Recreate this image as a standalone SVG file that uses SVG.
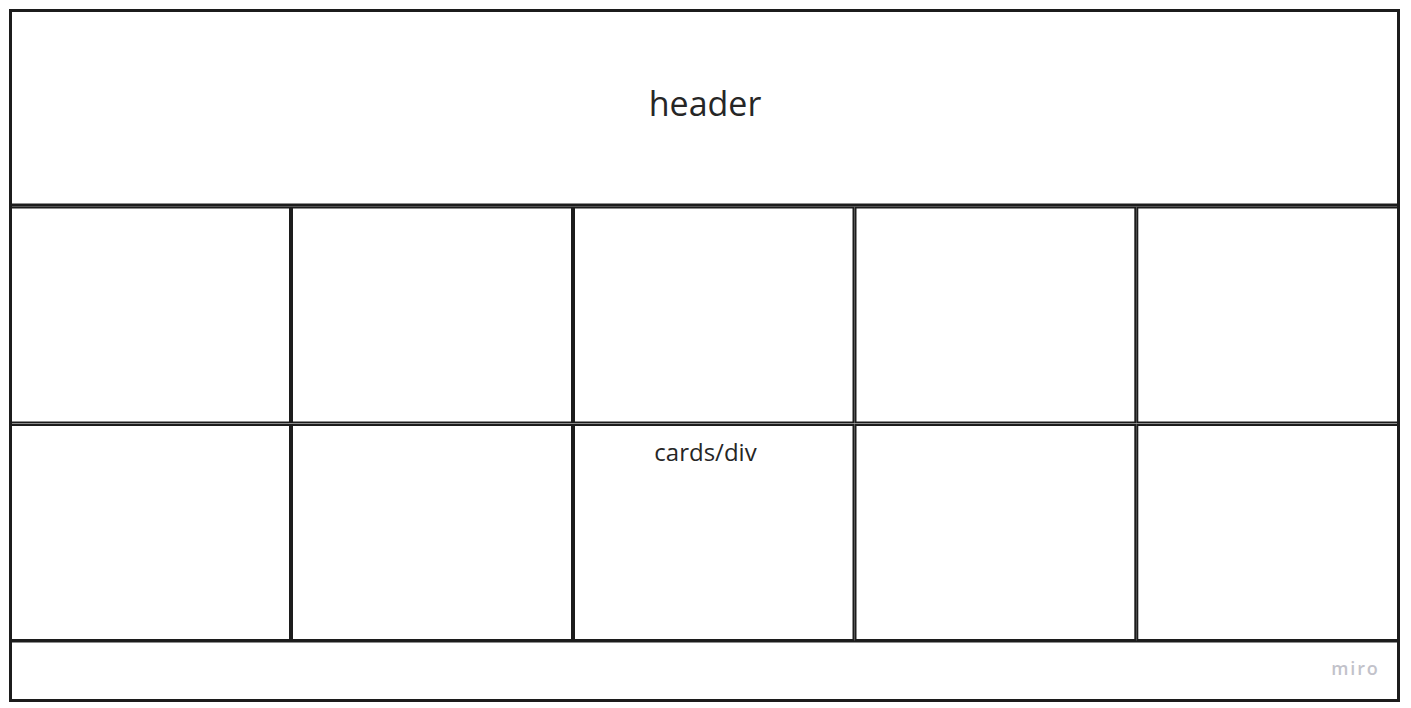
<svg xmlns="http://www.w3.org/2000/svg" width="1411" height="708" viewBox="0 0 1411 708">
<style>
.cell{fill:#ffffff;stroke:#1c1c1c;stroke-width:2}
.frame{fill:none;stroke:#1c1c1c;stroke-width:3}
.lbl{font-family:"Open Sans","Liberation Sans",sans-serif;fill:#262626;text-anchor:middle}
.miro{font-family:"Open Sans","Liberation Sans",sans-serif;fill:#c2c2ca;font-weight:600;font-size:18px;letter-spacing:1.8px;text-anchor:end}
</style>
<rect width="1411" height="708" fill="#ffffff"/>
<g id="header">
<rect class="cell" x="10.5" y="10.5" width="1388" height="194.5" style="stroke-width:3"/>
<text class="lbl" x="705" y="116" font-size="34">header</text>
</g>
<g id="card-1-1"><rect class="cell" x="11" y="207.5" width="279" height="215"/></g>
<g id="card-1-2"><rect class="cell" x="292" y="207.5" width="280" height="215"/></g>
<g id="card-1-3"><rect class="cell" x="574" y="207.5" width="279.5" height="215"/></g>
<g id="card-1-4"><rect class="cell" x="855.5" y="207.5" width="279.8" height="215"/></g>
<g id="card-1-5"><rect class="cell" x="1137.3" y="207.5" width="260.7" height="215"/></g>
<g id="card-2-1"><rect class="cell" x="11" y="425" width="279" height="215"/></g>
<g id="card-2-2"><rect class="cell" x="292" y="425" width="280" height="215"/></g>
<g id="card-2-3">
<rect class="cell" x="574" y="425" width="279.5" height="215"/>
<text class="lbl" x="705.5" y="461" font-size="24">cards/div</text>
</g>
<g id="card-2-4"><rect class="cell" x="855.5" y="425" width="279.8" height="215"/></g>
<g id="card-2-5"><rect class="cell" x="1137.3" y="425" width="260.7" height="215"/></g>
<g id="footer">
<rect class="cell" x="10.5" y="641.5" width="1388" height="59"/>
<text class="miro" x="1379.5" y="675">miro</text>
</g>
<g id="connectors"></g>
<rect class="frame" x="10.5" y="10.5" width="1388" height="690"/>
</svg>
